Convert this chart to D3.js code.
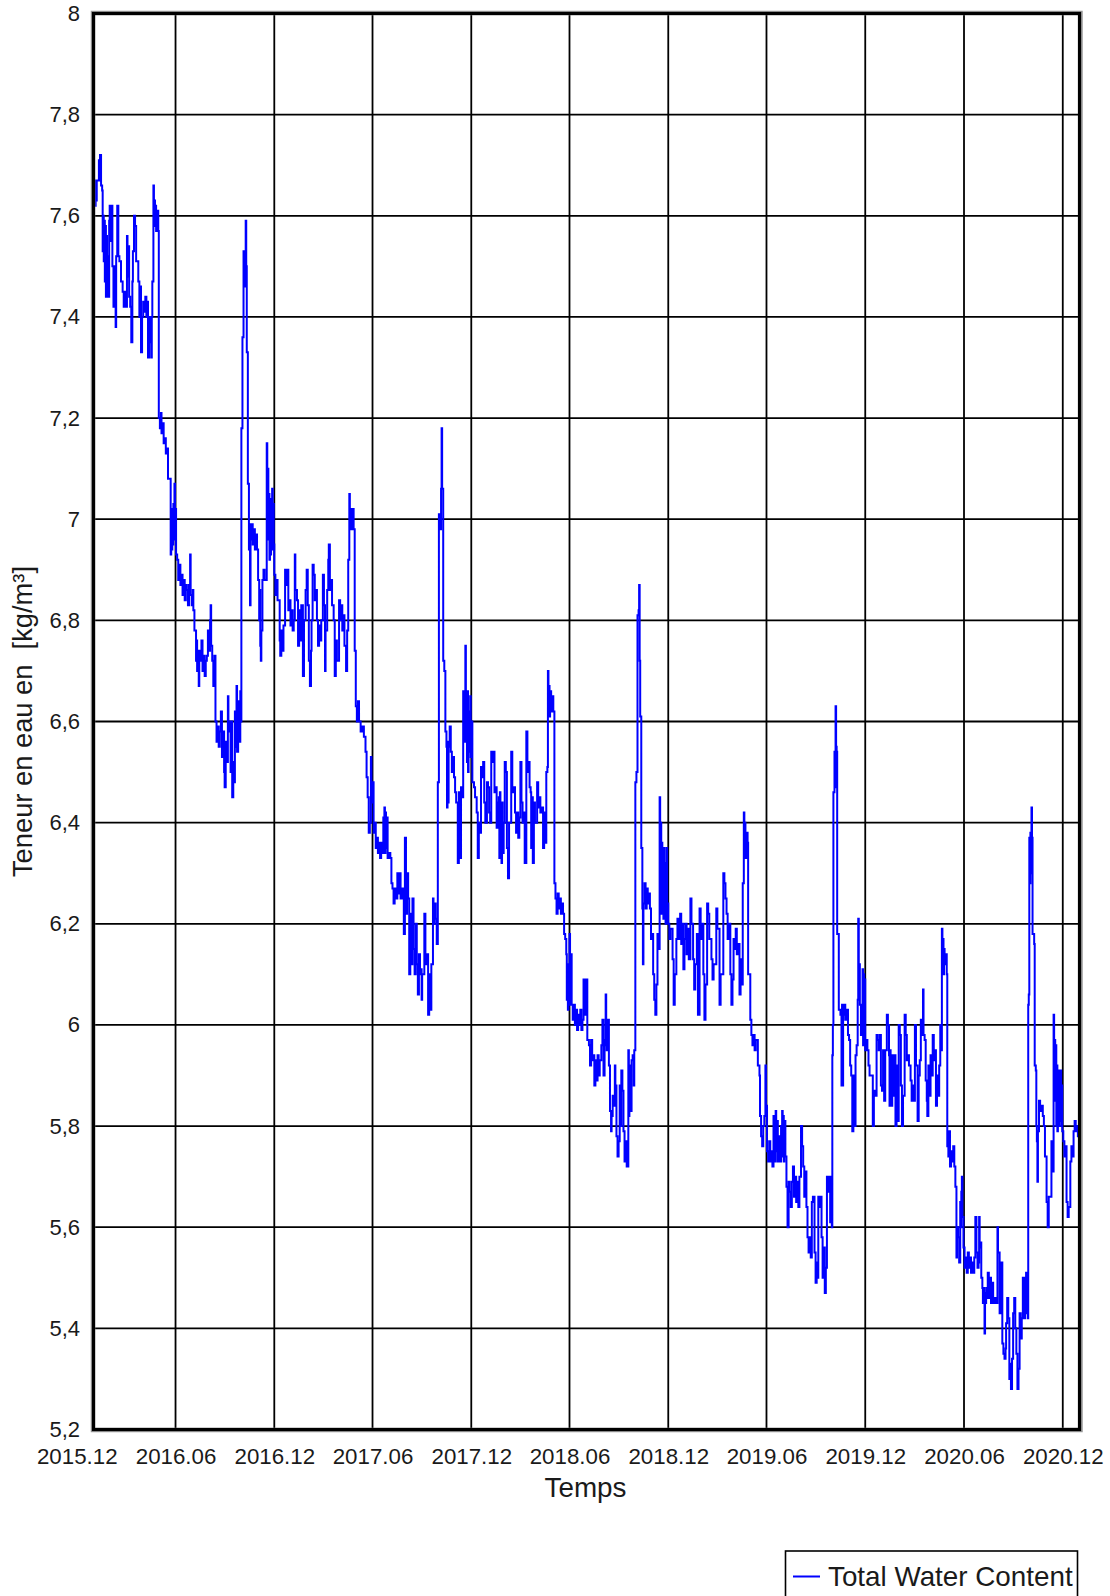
<!DOCTYPE html>
<html>
<head>
<meta charset="utf-8">
<script src="https://cdn.jsdelivr.net/npm/d3@7"></script>
<style>
  body { margin: 0; background: #fff; }
  svg { display: block; font-family: "Liberation Sans", Arial, Helvetica, sans-serif; }
</style>
</head>
<body>
<svg id="chart" width="1110" height="1596"></svg>
<script>
// Total water content of the wall, [day since recordStart, kg/m³], one list per year.
const recordStart = "2016-01-01";
const recordEnd = "2021-01-01";

const readings2016 = [
  [0,7.64],[1,7.62],[2,7.67],[3,7.62],[4,7.66],[5,7.63],[6,7.67],[8,7.67],[10,7.71],[11,7.67],[12,7.72],[14,7.66],
  [16,7.65],[17,7.53],[18,7.60],[19,7.51],[20,7.59],[21,7.47],[22,7.58],[23,7.44],[24,7.56],[25,7.45],[26,7.52],[27,7.44],
  [29,7.59],[30,7.62],[31,7.55],[33,7.62],[35,7.50],[37,7.42],[39,7.50],[41,7.38],[42,7.52],[44,7.62],[46,7.52],[48,7.51],
  [51,7.47],[54,7.45],[56,7.42],[57,7.45],[60,7.42],[62,7.56],[63,7.48],[65,7.54],[66,7.44],[68,7.42],[70,7.35],[72,7.47],
  [73,7.53],[75,7.60],[77,7.58],[79,7.51],[81,7.51],[83,7.47],[85,7.40],[87,7.46],[88,7.33],[90,7.40],[92,7.43],[94,7.41],
  [96,7.44],[98,7.40],[99,7.43],[101,7.32],[103,7.40],[105,7.35],[107,7.32],[108,7.40],[109,7.47],[110,7.47],[111,7.66],
  [112,7.59],[113,7.63],[114,7.58],[115,7.62],[116,7.57],[118,7.61],[120,7.57],
  [121,7.20],[123,7.18],[125,7.21],[126,7.17],[128,7.19],[130,7.15],[132,7.16],[134,7.13],[136,7.14],[138,7.08],[141,7.08],
  [143,6.93],[144,7.00],[145,6.94],[146,7.02],[147,6.95],[148,7.03],[149,6.96],[150,7.07],[151,6.97],[152,7.02],[153,6.93],
  [155,6.92],[157,6.88],[159,6.91],[161,6.87],[163,6.89],[165,6.85],[167,6.88],[169,6.84],[171,6.87],[173,6.86],[175,6.83],
  [177,6.87],[179,6.93],[180,6.85],[182,6.83],[184,6.86],[185,6.82],[187,6.78],[189,6.78],[190,6.72],[191,6.76],[192,6.70],
  [193,6.74],[195,6.67],[196,6.74],[198,6.72],[200,6.76],[202,6.70],[204,6.73],[206,6.69],[208,6.72],[210,6.73],[212,6.78],
  [214,6.74],[216,6.80],[217,6.83],[218,6.75],[220,6.72],[222,6.67],[224,6.73],[226,6.60],[228,6.56],[230,6.59],[232,6.55],
  [234,6.58],[236,6.62],[238,6.53],[240,6.58],[242,6.50],[243,6.47],[245,6.56],[247,6.52],[249,6.65],[250,6.58],[252,6.60],
  [254,6.50],[255,6.60],[257,6.45],[259,6.52],[260,6.48],[262,6.62],[263,6.55],[265,6.67],[266,6.54],[268,6.64],[270,6.56],
  [272,6.66],[273,6.60],[274,7.18],[276,7.36],[278,7.53],[280,7.46],[282,7.59],[283,7.50],[284,7.33],[286,7.07],[288,6.94],
  [289,6.99],[290,6.83],[291,6.96],[293,6.99],[295,6.95],[297,6.98],[299,6.94],[301,6.97],[303,6.94],[305,6.88],[307,6.80],
  [308,6.86],[309,6.75],[310,6.72],[311,6.78],[313,6.88],[315,6.90],[317,6.88],[321,7.15],[322,7.08],[323,7.10],[324,6.96],
  [325,7.05],[326,6.92],[327,7.04],[328,6.93],[329,7.02],[330,6.95],[331,7.06],[332,6.94],[333,7.03],[334,6.95],[335,6.89],
  [337,6.85],[339,6.88],[341,6.84],[344,6.84],[345,6.76],[346,6.73],[348,6.78],[350,6.74],[352,6.79],[355,6.90],[357,6.87],
  [359,6.90],[361,6.82],[363,6.84],[365,6.79]
];

const readings2017 = [
  [367,6.82],[369,6.78],[371,6.80],[373,6.93],[374,6.86],[377,6.84],[379,6.75],[381,6.82],[383,6.76],[385,6.83],[388,6.69],
  [390,6.80],[393,6.86],[395,6.90],[397,6.83],[399,6.72],[401,6.67],[403,6.74],[404,6.80],[406,6.91],[408,6.89],[410,6.84],
  [412,6.86],[414,6.80],[416,6.75],[418,6.79],[420,6.76],[422,6.80],[425,6.89],[427,6.83],[429,6.70],[430,6.78],[433,6.86],
  [435,6.92],[436,6.95],[438,6.86],[440,6.88],[442,6.83],[445,6.80],[447,6.69],[449,6.76],[451,6.72],[455,6.84],[457,6.80],
  [459,6.83],[461,6.78],[463,6.81],[465,6.75],[468,6.70],[470,6.78],[472,6.92],[474,7.05],[475,6.98],[476,7.02],[478,6.98],
  [480,7.02],[482,6.98],[484,6.74],[486,6.63],[488,6.60],[490,6.64],[492,6.60],[495,6.58],[498,6.59],[501,6.57],[504,6.54],
  [506,6.49],[508,6.45],[510,6.38],[512,6.40],[514,6.53],[515,6.44],[517,6.48],[519,6.38],[521,6.40],[523,6.35],[525,6.37],
  [527,6.34],[529,6.36],[531,6.33],[533,6.36],[535,6.34],[537,6.41],[538,6.35],[539,6.43],[540,6.34],[541,6.42],[542,6.35],
  [543,6.41],[545,6.33],[547,6.34],[550,6.33],[552,6.28],[554,6.27],[556,6.24],[558,6.27],[560,6.25],[563,6.30],[565,6.26],
  [567,6.30],[569,6.25],[572,6.27],[575,6.18],[577,6.37],[579,6.22],[581,6.30],[583,6.25],[585,6.10],[587,6.22],[589,6.12],
  [591,6.25],[593,6.15],[595,6.10],[597,6.20],[599,6.12],[601,6.06],[603,6.14],[605,6.10],[607,6.11],[608,6.05],[609,6.10],
  [613,6.22],[615,6.12],[617,6.14],[620,6.02],[622,6.10],[624,6.03],[626,6.12],[629,6.25],[630,6.20],[632,6.24],[634,6.21],
  [636,6.16],[638,6.48],[640,7.01],[642,6.98],[644,7.06],[645,7.18],[646,7.06],[648,6.72],[650,6.70],[652,6.58],[654,6.55],
  [655,6.43],[656,6.56],[657,6.44],[658,6.55],[660,6.59],[662,6.54],[664,6.50],[666,6.53],[668,6.49],[670,6.46],[672,6.44],
  [675,6.32],[677,6.46],[679,6.33],[681,6.47],[683,6.45],[685,6.66],[687,6.56],[689,6.75],[690,6.60],[691,6.64],[692,6.52],
  [693,6.66],[694,6.50],[695,6.62],[696,6.54],[698,6.65],[699,6.53],[700,6.60],[702,6.48],[705,6.47],[707,6.45],[710,6.42],
  [712,6.33],[714,6.40],[716,6.38],[718,6.51],[720,6.49],[722,6.52],[724,6.44],[726,6.40],[729,6.48]
];

const readings2018 = [
  [731,6.47],[733,6.42],[735,6.40],[737,6.54],[739,6.52],[741,6.54],[743,6.46],[745,6.47],[747,6.39],[749,6.44],[751,6.45],
  [752,6.33],[753,6.46],[754,6.35],[755,6.43],[756,6.32],[757,6.44],[758,6.34],[760,6.40],[762,6.52],[764,6.50],[766,6.35],
  [768,6.29],[770,6.40],[774,6.54],[776,6.46],[778,6.47],[781,6.42],[783,6.38],[785,6.42],[787,6.37],[789,6.41],[791,6.52],
  [793,6.44],[795,6.40],[797,6.42],[799,6.32],[802,6.58],[804,6.50],[806,6.52],[808,6.47],[810,6.46],[811,6.35],[812,6.45],
  [814,6.32],[816,6.44],[818,6.40],[822,6.48],[824,6.43],[826,6.45],[828,6.42],[831,6.43],[833,6.35],[835,6.42],[837,6.36],
  [839,6.50],[841,6.51],[842,6.70],[843,6.63],[844,6.67],[845,6.61],[846,6.66],[848,6.62],[850,6.65],[852,6.62],[854,6.28],
  [856,6.25],[858,6.22],[860,6.26],[862,6.23],[864,6.25],[866,6.22],[868,6.24],[870,6.22],[872,6.18],[874,6.17],[876,6.14],
  [877,6.05],[878,6.12],[879,6.03],[880,6.10],[882,6.18],[883,6.04],[884,6.14],[886,6.04],[888,6.01],[890,6.04],[892,6.00],
  [894,6.03],[896,5.99],[898,6.02],[900,6.00],[902,6.03],[904,5.99],[906,6.01],[908,6.09],[910,6.02],[913,6.09],[915,5.97],
  [918,5.96],[920,5.92],[922,5.97],[924,5.93],[926,5.94],[928,5.88],[930,5.93],[932,5.89],[934,5.94],[936,5.90],[938,5.93],
  [941,5.96],[943,6.01],[945,5.90],[947,5.97],[949,6.06],[950,5.96],[951,5.95],[953,6.01],[955,5.92],[957,5.83],[959,5.79],
  [960,5.82],[962,5.86],[964,5.84],[966,5.92],[967,5.88],[969,5.78],[971,5.74],[973,5.77],[975,5.88],[976,5.80],[978,5.91],
  [980,5.87],[982,5.79],[984,5.73],[986,5.77],[988,5.72],[991,5.95],[992,5.82],[993,5.92],[994,5.84],[995,5.90],[996,5.83],
  [997,5.93],[999,5.94],[1001,5.88],[1002,5.95],[1004,6.48],[1006,6.50],[1008,6.81],[1010,6.82],[1011,6.87],[1012,6.72],
  [1013,6.61],[1015,6.35],[1017,6.23],[1018,6.12],[1019,6.24],[1021,6.28],[1023,6.23],[1025,6.27],[1027,6.24],[1029,6.26],
  [1031,6.23],[1033,6.17],[1035,6.18],[1037,6.10],[1039,6.05],[1041,6.02],[1043,6.08],[1045,6.18],[1047,6.15],[1049,6.45],
  [1050,6.30],[1051,6.40],[1052,6.22],[1053,6.36],[1054,6.24],[1055,6.34],[1056,6.21],[1057,6.35],[1058,6.23],[1059,6.32],
  [1060,6.20],[1062,6.35],[1063,6.24],[1065,6.20],[1067,6.17],[1069,6.19],[1073,6.13],[1075,6.04],[1077,6.10],[1080,6.17],
  [1082,6.21],[1084,6.17],[1087,6.22],[1089,6.16],[1091,6.20],[1093,6.11],[1095,6.17]
];

const readings2019 = [
  [1097,6.20],[1099,6.14],[1101,6.19],[1103,6.13],[1106,6.25],[1108,6.20],[1111,6.13],[1113,6.07],[1115,6.12],[1118,6.18],
  [1120,6.02],[1123,6.23],[1125,6.17],[1127,6.20],[1130,6.10],[1132,6.01],[1134,6.08],[1137,6.24],[1139,6.22],[1141,6.17],
  [1145,6.13],[1147,6.09],[1149,6.12],[1154,6.23],[1156,6.19],[1160,6.04],[1162,6.10],[1167,6.30],[1169,6.28],[1171,6.25],
  [1173,6.22],[1175,6.17],[1177,6.20],[1180,6.10],[1182,6.04],[1184,6.09],[1186,6.17],[1188,6.15],[1190,6.19],[1192,6.14],
  [1195,6.16],[1197,6.06],[1199,6.13],[1201,6.08],[1203,6.28],[1205,6.42],[1206,6.35],[1207,6.40],[1208,6.33],[1210,6.38],
  [1212,6.36],[1213,6.10],[1215,6.10],[1217,6.01],[1219,5.98],[1221,5.96],[1223,5.98],[1225,5.95],[1227,5.97],[1231,5.92],
  [1234,5.90],[1235,5.82],[1237,5.78],[1239,5.76],[1241,5.80],[1243,5.82],[1245,5.92],[1246,5.84],[1248,5.75],[1250,5.73],
  [1252,5.77],[1254,5.73],[1256,5.75],[1258,5.72],[1260,5.82],[1261,5.74],[1262,5.82],[1263,5.73],[1264,5.83],[1265,5.75],
  [1266,5.81],[1268,5.73],[1270,5.78],[1272,5.73],[1274,5.80],[1276,5.83],[1277,5.74],[1278,5.82],[1279,5.73],[1280,5.81],
  [1282,5.74],[1284,5.68],[1286,5.60],[1288,5.69],[1290,5.67],[1292,5.64],[1294,5.69],[1296,5.72],[1298,5.66],[1300,5.70],
  [1302,5.65],[1304,5.69],[1306,5.64],[1308,5.70],[1311,5.80],[1313,5.76],[1315,5.72],[1317,5.66],[1319,5.71],[1321,5.64],
  [1323,5.58],[1325,5.55],[1327,5.58],[1329,5.54],[1331,5.65],[1333,5.66],[1336,5.55],[1338,5.49],[1340,5.53],[1342,5.50],
  [1343,5.66],[1345,5.64],[1347,5.66],[1349,5.58],[1351,5.50],[1353,5.56],[1355,5.47],[1357,5.52],[1359,5.70],[1361,5.67],
  [1363,5.70],[1365,5.61],[1367,5.70],[1368,5.60],[1369,5.94],[1370,6.00],[1371,6.46],[1373,6.54],[1374,6.47],[1375,6.63],
  [1376,6.55],[1377,6.54],[1378,6.18],[1381,6.03],[1384,6.02],[1386,5.88],[1387,6.04],[1388,5.88],[1389,6.02],[1391,6.04],
  [1393,6.01],[1395,6.03],[1398,5.98],[1400,5.97],[1402,5.92],[1404,5.90],[1406,5.79],[1408,5.90],[1410,5.80],[1412,5.94],
  [1414,5.96],[1416,6.05],[1417,6.21],[1418,6.08],[1419,6.12],[1420,6.04],[1422,5.98],[1424,6.00],[1425,6.11],[1426,5.96],
  [1427,6.10],[1428,5.97],[1429,6.09],[1430,5.95],[1432,5.97],[1434,5.95],[1436,5.92],[1438,5.90],[1441,5.90],[1444,5.80],
  [1446,5.87],[1448,5.86],[1451,5.98],[1453,5.97],[1455,5.95],[1457,5.98],[1459,5.88]
];

const readings2020 = [
  [1461,5.87],[1463,5.95],[1465,5.85],[1467,5.95],[1470,6.02],[1472,6.00],[1474,5.94],[1475,5.84],[1476,5.95],[1477,5.86],
  [1478,5.92],[1479,5.84],[1480,5.94],[1482,5.86],[1484,5.94],[1486,5.80],[1488,5.92],[1490,5.81],[1492,6.00],[1494,5.98],
  [1496,5.88],[1498,5.80],[1500,5.86],[1503,6.02],[1505,5.98],[1507,5.93],[1509,5.94],[1511,5.92],[1514,5.89],[1516,5.85],
  [1518,5.88],[1520,5.85],[1522,6.00],[1524,5.92],[1527,5.81],[1529,5.90],[1531,5.93],[1533,6.01],[1535,5.98],[1537,6.07],
  [1538,5.98],[1540,5.97],[1542,5.89],[1544,5.85],[1545,5.82],[1547,5.92],[1549,5.86],[1551,5.94],[1553,5.90],[1555,5.98],
  [1557,5.93],[1559,5.95],[1561,5.84],[1563,5.90],[1565,5.86],[1567,5.92],[1569,6.00],[1570,5.95],[1572,6.19],[1573,6.12],
  [1574,6.17],[1575,6.10],[1576,6.15],[1577,6.12],[1579,6.14],[1581,6.10],[1582,5.76],[1584,5.74],[1585,5.79],[1587,5.72],
  [1589,5.75],[1591,5.73],[1593,5.76],[1595,5.72],[1597,5.68],[1599,5.54],[1600,5.60],[1602,5.58],[1604,5.53],[1606,5.65],
  [1607,5.60],[1608,5.67],[1609,5.70],[1610,5.62],[1612,5.56],[1614,5.52],[1616,5.54],[1618,5.51],[1620,5.55],[1622,5.52],
  [1624,5.54],[1626,5.51],[1628,5.53],[1630,5.51],[1632,5.54],[1634,5.62],[1636,5.55],[1638,5.52],[1640,5.53],[1641,5.62],
  [1642,5.56],[1644,5.57],[1645,5.50],[1647,5.48],[1648,5.45],[1649,5.48],[1650,5.46],[1651,5.39],[1652,5.47],[1653,5.45],
  [1654,5.48],[1655,5.46],[1657,5.51],[1659,5.46],[1661,5.50],[1663,5.45],[1665,5.49],[1667,5.45],[1670,5.46],[1672,5.45],
  [1675,5.60],[1676,5.55],[1678,5.55],[1679,5.43],[1681,5.45],[1682,5.53],[1684,5.37],[1686,5.35],[1688,5.34],[1690,5.36],
  [1691,5.41],[1693,5.46],[1695,5.42],[1697,5.30],[1699,5.33],[1700,5.28],[1702,5.34],[1704,5.43],[1706,5.46],[1708,5.40],
  [1710,5.35],[1712,5.28],[1714,5.32],[1716,5.43],[1718,5.38],[1720,5.42],[1722,5.50],[1723,5.42],[1724,5.49],[1725,5.42],
  [1726,5.50],[1727,5.43],[1728,5.51],[1729,5.45],[1731,5.42],[1732,6.04],[1733,6.06],[1734,6.37],[1735,6.28],[1736,6.38],
  [1737,6.30],[1738,6.43],[1739,6.37],[1740,6.18],[1743,6.16],[1744,5.92],[1746,5.91],[1747,5.80],[1748,5.77],[1749,5.69],
  [1750,5.79],[1752,5.85],[1754,5.83],[1756,5.84],[1759,5.82],[1761,5.80],[1763,5.74],[1766,5.65],[1768,5.60],[1770,5.66],
  [1775,5.77],[1777,5.71],[1779,6.02],[1780,5.90],[1781,5.97],[1782,5.85],[1783,5.96],[1784,5.80],[1785,5.92],[1786,5.79],
  [1787,5.90],[1788,5.80],[1789,5.91],[1790,5.81],[1792,5.91],[1793,5.80],[1794,5.88],[1795,5.79],[1797,5.77],[1799,5.74],
  [1801,5.76],[1803,5.65],[1805,5.62],[1807,5.64],[1810,5.73],[1812,5.76],[1814,5.74],[1816,5.79],[1818,5.81],[1820,5.79],
  [1822,5.80],[1824,5.78],[1826,5.80]
];

// Axis ticks and labels
const monthTicks = ["2015-12-01","2016-06-01","2016-12-01","2017-06-01","2017-12-01","2018-06-01",
                    "2018-12-01","2019-06-01","2019-12-01","2020-06-01","2020-12-01"];
const valueTicks = [5.2,5.4,5.6,5.8,6.0,6.2,6.4,6.6,6.8,7.0,7.2,7.4,7.6,7.8,8.0];
const seriesName = "Total Water Content";
const xTitle = "Temps";
const yTitle = "Teneur en eau en\u00a0\u00a0[kg/m³]";

// ---- layout ----
const plot = { left: 93.5, right: 1079.5, top: 13.5, bottom: 1429.5 };
const lineColor = "#0000ff";
const inkColor = "#1a1a1a";

const parseDay = d3.utcParse("%Y-%m-%d");
const t0 = parseDay(recordStart);
const series = [].concat(readings2016, readings2017, readings2018, readings2019, readings2020)
  .map(([d, v]) => ({ date: d3.utcDay.offset(t0, d), value: v }));

const x = d3.scaleUtc().domain([t0, parseDay(recordEnd)]).range([plot.left, plot.right]);
const y = d3.scaleLinear().domain([5.2, 8]).range([plot.bottom, plot.top]);

const frFormat = d3.formatLocale({ decimal: ",", thousands: "\u00a0", grouping: [3], currency: ["", " €"] })
  .format(".1~f");

const svg = d3.select("#chart");
svg.append("rect").attr("width", 1110).attr("height", 1596).attr("fill", "#fff");

// grid
const tickDates = monthTicks.map(parseDay);
const grid = svg.append("g").attr("stroke", "#000").attr("stroke-width", 1.8);
grid.selectAll("line.h").data(valueTicks).join("line").attr("class", "h")
  .attr("x1", plot.left).attr("x2", plot.right)
  .attr("y1", d => y(d)).attr("y2", d => y(d));
grid.selectAll("line.v").data(tickDates.filter(d => d > x.domain()[0] && d < x.domain()[1]))
  .join("line").attr("class", "v")
  .attr("x1", d => x(d)).attr("x2", d => x(d))
  .attr("y1", plot.top).attr("y2", plot.bottom);

// series
svg.append("clipPath").attr("id", "plotClip").append("rect")
  .attr("x", plot.left).attr("y", plot.top)
  .attr("width", plot.right - plot.left).attr("height", plot.bottom - plot.top);

const line = d3.line()
  .x(d => x(d.date))
  .y(d => y(d.value))
  .curve(d3.curveStepAfter);

svg.append("path")
  .datum(series)
  .attr("clip-path", "url(#plotClip)")
  .attr("fill", "none")
  .attr("stroke", lineColor)
  .attr("stroke-width", 2)
  .attr("stroke-linejoin", "miter")
  .attr("d", line);

// frame, with a soft grey edge on the outside
svg.append("rect")
  .attr("x", plot.left - 0.5).attr("y", plot.top - 0.5)
  .attr("width", plot.right - plot.left + 1.5).attr("height", plot.bottom - plot.top + 1)
  .attr("fill", "none").attr("stroke", "#9a9a9a").attr("stroke-width", 4.5);
svg.append("rect")
  .attr("x", plot.left).attr("y", plot.top)
  .attr("width", plot.right - plot.left).attr("height", plot.bottom - plot.top)
  .attr("fill", "none").attr("stroke", "#000").attr("stroke-width", 3.2);

// y axis
const yAxis = svg.append("g")
  .attr("transform", `translate(${plot.left},0)`)
  .call(d3.axisLeft(y).tickValues(valueTicks).tickFormat(frFormat).tickSize(0).tickPadding(13.5));
yAxis.select(".domain").remove();
yAxis.selectAll("text").attr("font-size", 22).attr("fill", inkColor)
  .attr("font-family", "'Liberation Sans', Arial, sans-serif");

// x axis
const xAxis = svg.append("g")
  .attr("transform", `translate(0,${plot.bottom})`)
  .call(d3.axisBottom(x).tickValues(tickDates).tickFormat(d3.utcFormat("%Y.%m")).tickSize(0).tickPadding(19));
xAxis.select(".domain").remove();
xAxis.selectAll("text").attr("font-size", 22.3).attr("fill", inkColor)
  .attr("font-family", "'Liberation Sans', Arial, sans-serif");

// axis titles
svg.append("text")
  .attr("x", (plot.left + plot.right) / 2 - 1).attr("y", 1497)
  .attr("text-anchor", "middle").attr("font-size", 27.8).attr("fill", inkColor)
  .text(xTitle);

svg.append("text")
  .attr("transform", `translate(32,${(plot.top + plot.bottom) / 2}) rotate(-90)`)
  .attr("text-anchor", "middle").attr("font-size", 27.3).attr("fill", inkColor)
  .text(yTitle);

// legend
const legend = svg.append("g");
legend.append("rect")
  .attr("x", 785.5).attr("y", 1551).attr("width", 292).attr("height", 70)
  .attr("fill", "#fff").attr("stroke", "#000").attr("stroke-width", 1.6);
legend.append("line")
  .attr("x1", 793).attr("x2", 820).attr("y1", 1576.5).attr("y2", 1576.5)
  .attr("stroke", lineColor).attr("stroke-width", 2);
legend.append("text")
  .attr("x", 828).attr("y", 1585.5)
  .attr("font-size", 27.8).attr("fill", inkColor)
  .text(seriesName);
</script>
</body>
</html>
